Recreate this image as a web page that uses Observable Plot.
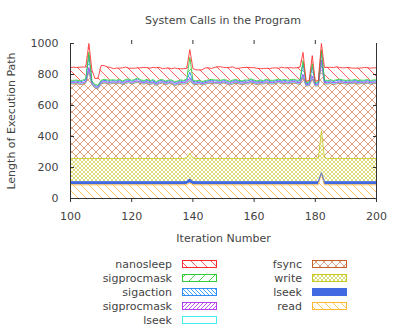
<!DOCTYPE html>
<html><head><meta charset="utf-8">
<script src="https://cdn.jsdelivr.net/npm/d3@7"></script>
<script src="https://cdn.jsdelivr.net/npm/@observablehq/plot@0.6"></script>
<style>
body{margin:0;background:#fff;font-family:"DejaVu Sans",sans-serif;}
#wrap{position:relative;width:399px;height:332px;overflow:hidden;background:#fff;}
#chart{position:absolute;top:0;left:0;}
#title{position:absolute;top:14px;left:70px;width:306px;text-align:center;font-size:11px;line-height:13px;color:#444;}
#legend{position:absolute;top:250px;left:0;}
#defs{position:absolute;width:0;height:0;}
</style></head><body>
<div id="wrap"><svg id="defs" width="0" height="0"></svg><div id="chart"></div><div id="title">System Calls in the Program</div><svg id="legend" width="399" height="82"></svg></div>
<script>
const firstIteration = 100, lastIteration = 200;
const xTicks = [100, 120, 140, 160, 180, 200];
const yTicks = [0, 200, 400, 600, 800, 1000];
const seriesKeys = ["read", "lseekBlue", "write", "fsync", "lseekCyan", "sigprocmaskPurple", "sigaction", "sigprocmaskGreen", "nanosleep"];
const seriesLabels = ["read", "lseek", "write", "fsync", "lseek", "sigprocmask", "sigaction", "sigprocmask", "nanosleep"];
const seriesColors = ["#ffb833", "#4169e1", "#c8c828", "#c8602a", "#44eeee", "#b43cf0", "#2f8cf5", "#33cc33", "#ff2a2a"];

const read = [
88,88,88,88,88,88,88,88,88,88,
88,88,88,88,88,88,88,88,88,88,
88,88,88,88,88,88,88,88,88,88,
88,88,88,88,88,88,88,88,90,100,
90,88,88,88,88,88,88,88,88,88,
88,88,88,88,88,88,88,88,88,88,
88,88,88,88,88,88,88,88,88,88,
88,88,88,88,88,88,88,88,88,88,
88,88,166,88,88,88,88,88,88,88,
88,88,88,88,88,88,88,88,88,88,88];
const lseekBlue = [
20,20,20,20,20,20,20,20,20,20,
20,20,20,20,20,20,20,20,20,20,
20,20,20,20,20,20,20,20,20,20,
20,20,20,20,20,20,20,20,20,26,
20,20,20,20,20,20,20,20,20,20,
20,20,20,20,20,20,20,20,20,20,
20,20,20,20,20,20,20,20,20,20,
20,20,20,20,20,20,20,20,20,20,
20,20,0,20,20,20,20,20,20,20,
20,20,20,20,20,20,20,20,20,20,20];
const write = [
150,150,150,150,150,150,150,150,150,150,
150,150,150,150,150,150,150,150,150,150,
150,150,150,150,150,150,150,150,150,150,
150,150,150,150,150,150,150,150,152,165,
152,150,150,150,150,150,150,150,150,150,
150,150,150,150,150,150,150,150,150,150,
150,150,150,150,150,150,150,150,150,150,
150,150,150,150,150,150,150,150,150,150,
150,155,270,155,150,150,150,150,150,150,
150,150,150,150,150,150,150,150,150,150,150];
const fsync = [
482,480,484,477,480,487,562,477,454,450,
482,487,484,480,486,482,487,477,484,490,
480,487,492,484,480,487,477,484,472,482,
487,477,482,484,470,477,482,480,480,469,
476,477,482,474,480,484,487,482,484,480,
487,482,474,480,487,482,477,484,480,490,
482,477,484,480,487,482,480,484,490,482,
487,480,484,487,482,480,522,467,470,512,
467,465,439,477,480,484,478,482,487,484,
480,484,482,487,480,484,482,486,480,484,484];
const lseekCyan = [
4,4,5,4,4,5,10,4,4,4,
4,4,4,5,4,4,4,4,5,4,
4,4,4,4,5,4,4,4,4,4,
4,5,4,4,4,4,4,5,4,5,
4,4,4,4,4,4,4,4,4,4,
4,4,5,4,4,4,4,4,5,4,
4,4,4,4,4,4,4,4,4,4,
4,4,4,5,4,4,10,4,4,10,
4,4,8,4,4,4,5,4,4,4,
4,4,4,4,4,4,4,4,4,4,4];
const sigprocmaskPurple = [
5,5,5,6,5,5,15,5,5,5,
5,5,5,5,5,5,5,5,5,5,
5,6,5,5,5,5,6,5,5,5,
5,5,5,5,6,5,5,5,6,10,
5,5,5,5,5,5,5,5,5,5,
5,5,5,6,5,5,5,5,5,6,
5,5,5,5,5,5,5,5,5,5,
5,5,6,5,5,5,10,5,5,10,
5,5,10,5,5,5,6,5,5,5,
5,5,5,5,5,5,5,5,5,5,5];
const sigaction = [
8,9,7,8,10,12,80,9,7,8,
8,9,8,10,7,8,9,8,10,8,
9,8,12,8,7,9,8,10,8,9,
8,7,9,8,10,8,9,8,12,40,
10,8,9,8,7,8,9,10,8,9,
8,9,8,10,8,7,9,8,10,8,
9,8,7,8,10,8,9,8,7,9,
8,10,8,9,8,12,70,8,9,60,
8,9,50,10,8,9,8,12,10,8,
9,8,8,9,8,7,8,9,8,8,8];
const sigprocmaskGreen = [
6,6,6,6,7,6,20,6,6,6,
6,6,6,6,6,6,6,6,6,6,
6,6,7,6,6,6,6,7,6,6,
6,6,6,6,6,6,7,6,8,95,
7,6,6,6,6,6,6,6,6,6,
6,6,6,6,6,6,6,6,6,6,
6,6,7,6,6,6,6,6,6,6,
6,6,6,6,6,7,20,6,6,20,
6,6,15,6,6,6,6,6,6,6,
6,6,6,6,6,6,6,6,6,6,6];
const nanosleep = [
82,85,80,88,84,75,55,70,40,45,
95,88,84,82,72,78,72,85,80,70,
78,72,65,78,85,75,82,78,90,82,
70,82,78,72,88,80,72,75,68,50,
75,72,65,75,82,78,70,80,85,88,
78,80,90,85,72,78,85,80,82,72,
80,82,72,78,70,75,80,78,70,82,
75,80,78,72,80,82,52,8,10,52,
8,10,42,80,85,80,84,82,75,78,
82,80,78,72,80,78,82,76,80,78,78];

const seriesValues = [read, lseekBlue, write, fsync, lseekCyan, sigprocmaskPurple, sigaction, sigprocmaskGreen, nanosleep];
const iterations = d3.range(firstIteration, lastIteration + 1);

const patternSpec = {
  read: {kind: "back", w: 8, h: 8, op: 0.8},
  lseekBlue: {kind: "solid"},
  write: {kind: "cross", w: 4, h: 4, op: 0.6},
  fsync: {kind: "cross", w: 8, h: 8, op: 0.6},
  lseekCyan: {kind: "empty"},
  sigprocmaskPurple: {kind: "fwd", w: 4, h: 4, op: 0.85},
  sigaction: {kind: "back", w: 4, h: 4, op: 0.85},
  sigprocmaskGreen: {kind: "fwd", w: 10, h: 10, op: 0.85},
  nanosleep: {kind: "back", w: 10, h: 10, op: 0.75}
};
const defs = d3.select("#defs").append("defs");
seriesKeys.forEach((k, i) => {
  const s = patternSpec[k], c = seriesColors[i];
  const w = s.w || 4, h = s.h || 4;
  const p = defs.append("pattern").attr("id", "p-" + k).attr("patternUnits", "userSpaceOnUse")
    .attr("width", w).attr("height", h);
  p.append("rect").attr("width", w).attr("height", h).attr("fill", s.kind === "solid" ? c : "#fff");
  const back = `M0,0L${w},${h}M-1,${h-1}L1,${h+1}M${w-1},-1L${w+1},1`;
  const fwd = `M0,${h}L${w},0M-1,1L1,-1M${w-1},${h+1}L${w+1},${h-1}`;
  let d = null;
  if (s.kind === "back") d = back;
  if (s.kind === "fwd") d = fwd;
  if (s.kind === "cross") d = back + fwd;
  if (d) p.append("path").attr("d", d).attr("stroke", c).attr("stroke-width", 1).attr("fill", "none").attr("stroke-opacity", s.op);
});

const table = [];
seriesKeys.forEach((k, si) => {
  iterations.forEach((it, j) => {
    table.push({iteration: it, key: k, value: seriesValues[si][j], pattern: `url(#p-${k})`, color: seriesColors[si]});
  });
});

const chart = Plot.plot({
  width: 399, height: 250,
  marginLeft: 70, marginRight: 23, marginTop: 43, marginBottom: 52,
  x: {domain: [firstIteration, lastIteration]},
  y: {domain: [yTicks[0], yTicks[yTicks.length - 1]]},
  color: {type: "identity"},
  style: {fontFamily: "DejaVu Sans, sans-serif", fontSize: "11px", color: "#444", background: "white", overflow: "visible"},
  marks: [
    Plot.areaY(table, {x: "iteration", y: "value", z: "key", fill: "pattern"}),
    Plot.lineY(table, Plot.stackY2({x: "iteration", y: "value", z: "key", stroke: "color", strokeWidth: 1, strokeOpacity: 0.85})),
    Plot.ruleX([xTicks[0], xTicks[xTicks.length - 1]], {stroke: "#333"}),
    Plot.ruleY([yTicks[0]], {stroke: "#333"}),
    Plot.axisX({ticks: xTicks, tickSize: 4, tickPadding: 10, stroke: "#333", tickFormat: d3.format("d"), label: "Iteration Number", labelAnchor: "center", labelArrow: "none", labelOffset: 43}),
    Plot.axisX({anchor: "top", ticks: xTicks.slice(1, -1), tickSize: 4, stroke: "#333", tickFormat: () => "", label: null}),
    Plot.axisY({ticks: yTicks, tickSize: -4, tickPadding: 16, stroke: "#333", tickFormat: d3.format("d"), label: "Length of Execution Path", labelAnchor: "center", labelArrow: "none", labelOffset: 63}),
    Plot.axisY({anchor: "right", ticks: yTicks.slice(1, -1), tickSize: -4, stroke: "#333", tickFormat: () => "", label: null})
  ]
});
document.getElementById("chart").appendChild(chart);

const legend = d3.select("#legend");
const legendOrder = [8, 7, 6, 5, 4, 3, 2, 1, 0];
const rowY = [14, 28, 42, 56, 70];
legendOrder.forEach((si, n) => {
  const col = n < 5 ? 0 : 1, row = n < 5 ? n : n - 5;
  const textX = col === 0 ? 172 : 302, boxX = col === 0 ? 182 : 312;
  const y = rowY[row];
  legend.append("text").attr("x", textX).attr("y", y).attr("dy", "0.35em").attr("text-anchor", "end")
    .attr("font-size", 11).attr("font-family", "DejaVu Sans, sans-serif").attr("fill", "#444").text(seriesLabels[si]);
  legend.append("rect").attr("x", boxX + 0.5).attr("y", y - 3.5).attr("width", 34).attr("height", 7)
    .attr("fill", `url(#p-${seriesKeys[si]})`).attr("stroke", seriesColors[si]).attr("stroke-width", 1);
});
</script>
</body></html>
